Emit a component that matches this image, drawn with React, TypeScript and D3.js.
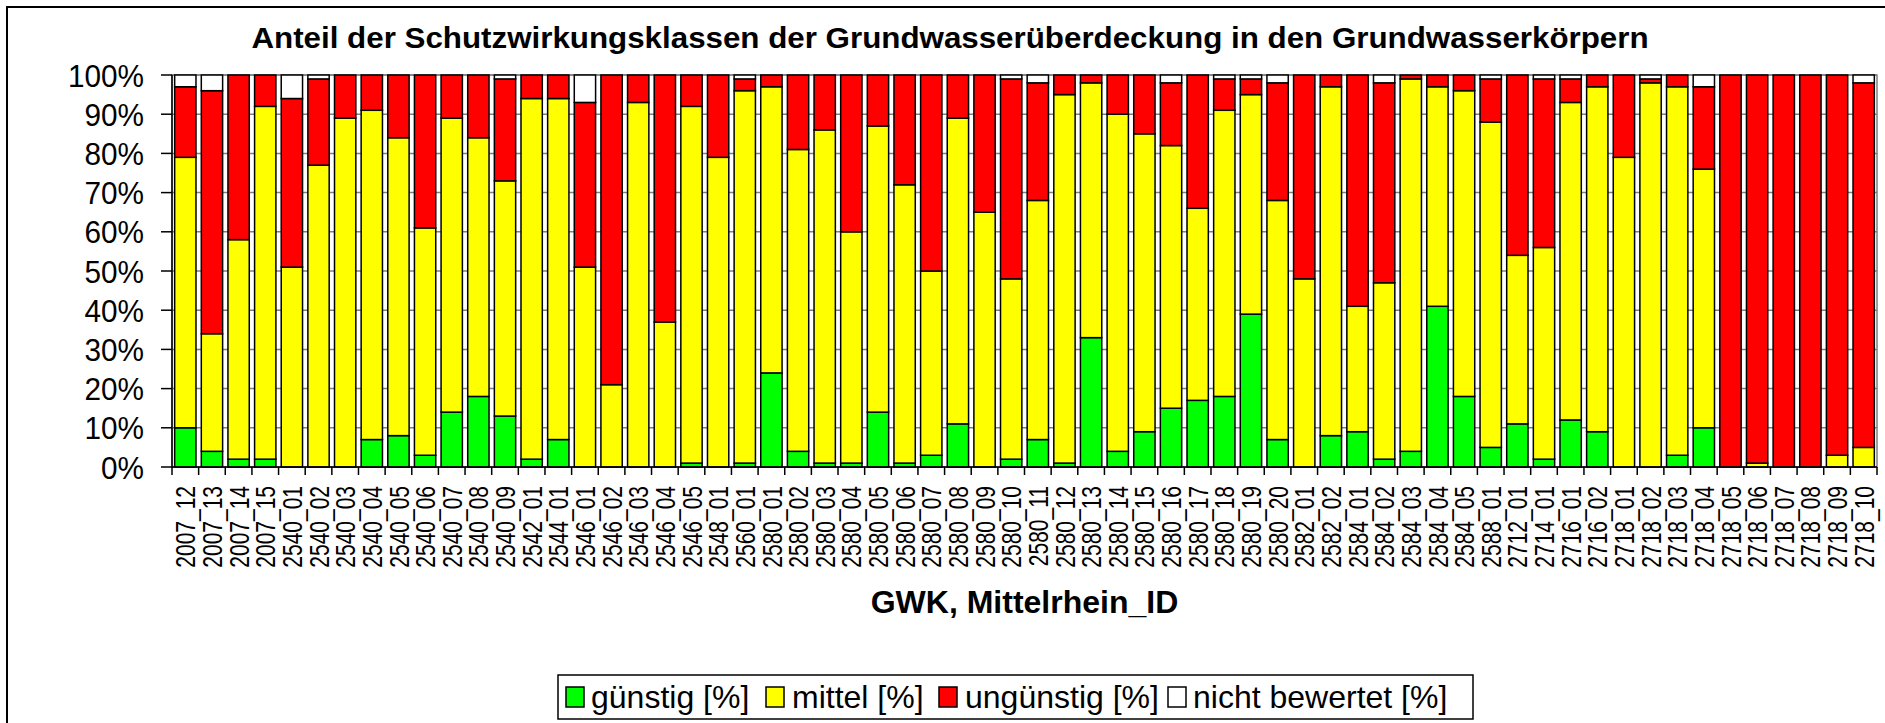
import React from 'react';
import * as d3 from 'd3';

const categories = [
  '2007_12', '2007_13', '2007_14', '2007_15', '2540_01', '2540_02', '2540_03', '2540_04',
  '2540_05', '2540_06', '2540_07', '2540_08', '2540_09', '2542_01', '2544_01', '2546_01',
  '2546_02', '2546_03', '2546_04', '2546_05', '2548_01', '2560_01', '2580_01', '2580_02',
  '2580_03', '2580_04', '2580_05', '2580_06', '2580_07', '2580_08', '2580_09', '2580_10',
  '2580_11', '2580_12', '2580_13', '2580_14', '2580_15', '2580_16', '2580_17', '2580_18',
  '2580_19', '2580_20', '2582_01', '2582_02', '2584_01', '2584_02', '2584_03', '2584_04',
  '2584_05', '2588_01', '2712_01', '2714_01', '2716_01', '2716_02', '2718_01', '2718_02',
  '2718_03', '2718_04', '2718_05', '2718_06', '2718_07', '2718_08', '2718_09', '2718_10',
];

const guenstig = [
  10, 4, 2, 2, 0, 0, 0, 7, 8, 3, 14, 18, 13, 2, 7, 0,
  0, 0, 0, 1, 0, 1, 24, 4, 1, 1, 14, 1, 3, 11, 0, 2,
  7, 1, 33, 4, 9, 15, 17, 18, 39, 7, 0, 8, 9, 2, 4, 41,
  18, 5, 11, 2, 12, 9, 0, 0, 3, 10, 0, 0, 0, 0, 0, 0,
];

const mittel = [
  69, 30, 56, 90, 51, 77, 89, 84, 76, 58, 75, 66, 60, 92, 87, 51,
  21, 93, 37, 91, 79, 95, 73, 77, 85, 59, 73, 71, 47, 78, 65, 46,
  61, 94, 65, 86, 76, 67, 49, 73, 56, 61, 48, 89, 32, 45, 95, 56,
  78, 83, 43, 54, 81, 88, 79, 98, 94, 66, 0, 1, 0, 0, 3, 5,
];

const unguenstig = [
  18, 62, 42, 8, 43, 22, 11, 9, 16, 39, 11, 16, 26, 6, 6, 42,
  79, 7, 63, 8, 21, 3, 3, 19, 14, 40, 13, 28, 50, 11, 35, 51,
  30, 5, 2, 10, 15, 16, 34, 8, 4, 30, 52, 3, 59, 51, 1, 3,
  4, 11, 46, 43, 6, 3, 21, 1, 3, 21, 100, 99, 100, 100, 97, 93,
];

const nichtBewertet = [
  3, 4, 0, 0, 6, 1, 0, 0, 0, 0, 0, 0, 1, 0, 0, 7,
  0, 0, 0, 0, 0, 1, 0, 0, 0, 0, 0, 0, 0, 0, 0, 1,
  2, 0, 0, 0, 0, 2, 0, 1, 1, 2, 0, 0, 0, 2, 0, 0,
  0, 1, 0, 1, 1, 0, 0, 1, 0, 3, 0, 0, 0, 0, 0, 2,
];

const seriesKeys = ['guenstig', 'mittel', 'unguenstig', 'nicht'];
const seriesNames = ['günstig [%]', 'mittel [%]', 'ungünstig [%]', 'nicht bewertet [%]'];
const seriesColors = ['#00ff00', '#ffff00', '#ff0000', '#ffffff'];
const yTicks = [0, 10, 20, 30, 40, 50, 60, 70, 80, 90, 100];

const title = 'Anteil der Schutzwirkungsklassen der Grundwasserüberdeckung in den Grundwasserkörpern';
const xTitle = 'GWK, Mittelrhein_ID';

const W = 1885;
const H = 723;
const font = '"Liberation Sans", Arial, sans-serif';

const plot = { left: 172, right: 1877, top: 75, bottom: 467 };
// legend: swatch x, text x
const legendPos = [[566, 591], [766, 792], [939, 965], [1168, 1193]];

export default function App() {
  const rows = categories.map((c, i) => ({
    cat: c,
    guenstig: guenstig[i],
    mittel: mittel[i],
    unguenstig: unguenstig[i],
    nicht: nichtBewertet[i],
  }));

  const x = d3.scaleBand<string>()
    .domain(categories)
    .range([plot.left, plot.right])
    .paddingInner(0.2)
    .paddingOuter(0.1);

  const y = d3.scaleLinear().domain([0, 100]).range([plot.bottom, plot.top]);

  const stacked = d3.stack<any>().keys(seriesKeys)(rows);
  const step = x.step();

  return (
    <svg width={W} height={H} style={{ position: 'absolute', left: 0, top: 0, background: '#fff' }}
      fontFamily={font}>
      <rect x={7} y={7} width={W + 10} height={H + 10} fill="#fff" stroke="#000" strokeWidth={2} />
      <text transform="translate(950,48) scale(1.08,1)" textAnchor="middle" fontSize={29} fontWeight="bold">{title}</text>

      {/* plot area & grid */}
      <rect x={plot.left} y={plot.top} width={plot.right - plot.left} height={plot.bottom - plot.top}
        fill="#fff" stroke="#808080" strokeWidth={1.5} />
      {yTicks.map(t => (
        <line key={'g' + t} x1={plot.left} x2={plot.right} y1={y(t)} y2={y(t)} stroke="#808080" strokeWidth={1.5} />
      ))}

      {/* bars */}
      {stacked.map((s, si) => (
        <g key={s.key} fill={seriesColors[si]} stroke="#000" strokeWidth={1.5}>
          {s.map((d, i) => d[1] - d[0] > 0 ? (
            <rect key={i} x={x(categories[i])} y={y(d[1])} width={x.bandwidth()} height={y(d[0]) - y(d[1])} />
          ) : null)}
        </g>
      ))}

      {/* y axis */}
      <line x1={plot.left} x2={plot.left} y1={plot.top} y2={plot.bottom} stroke="#000" strokeWidth={1.5} />
      {yTicks.map(t => (
        <g key={'y' + t}>
          <line x1={plot.left - 11} x2={plot.left} y1={y(t)} y2={y(t)} stroke="#000" strokeWidth={1.5} />
          <text transform={`translate(144,${y(t)}) scale(0.93,1)`} dy="0.36em" textAnchor="end" fontSize={32}>{t}%</text>
        </g>
      ))}

      {/* x axis */}
      <line x1={plot.left} x2={plot.right} y1={plot.bottom} y2={plot.bottom} stroke="#000" strokeWidth={1.5} />
      {d3.range(categories.length + 1).map(i => (
        <line key={'xt' + i} x1={plot.left + i * step} x2={plot.left + i * step} y1={plot.bottom} y2={plot.bottom + 8}
          stroke="#000" strokeWidth={1.5} />
      ))}
      {categories.map(c => {
        const cx = x(c)! + x.bandwidth() / 2;
        return (
          <text key={'xl' + c} transform={`translate(${cx},486) rotate(-90) scale(0.75,1)`} textAnchor="end" dy="0.36em" fontSize={28}>
            {c}
          </text>
        );
      })}
      <text x={(plot.left + plot.right) / 2} y={613} textAnchor="middle" fontSize={32} fontWeight="bold">{xTitle}</text>

      {/* legend */}
      <rect x={558} y={675} width={915} height={44} fill="#fff" stroke="#000" strokeWidth={1.5} />
      {seriesNames.map((n, i) => (
        <g key={n}>
          <rect x={legendPos[i][0]} y={687} width={18} height={20} fill={seriesColors[i]} stroke="#000" strokeWidth={1.5} />
          <text x={legendPos[i][1]} y={708} fontSize={32}>{n}</text>
        </g>
      ))}
    </svg>
  );
}
